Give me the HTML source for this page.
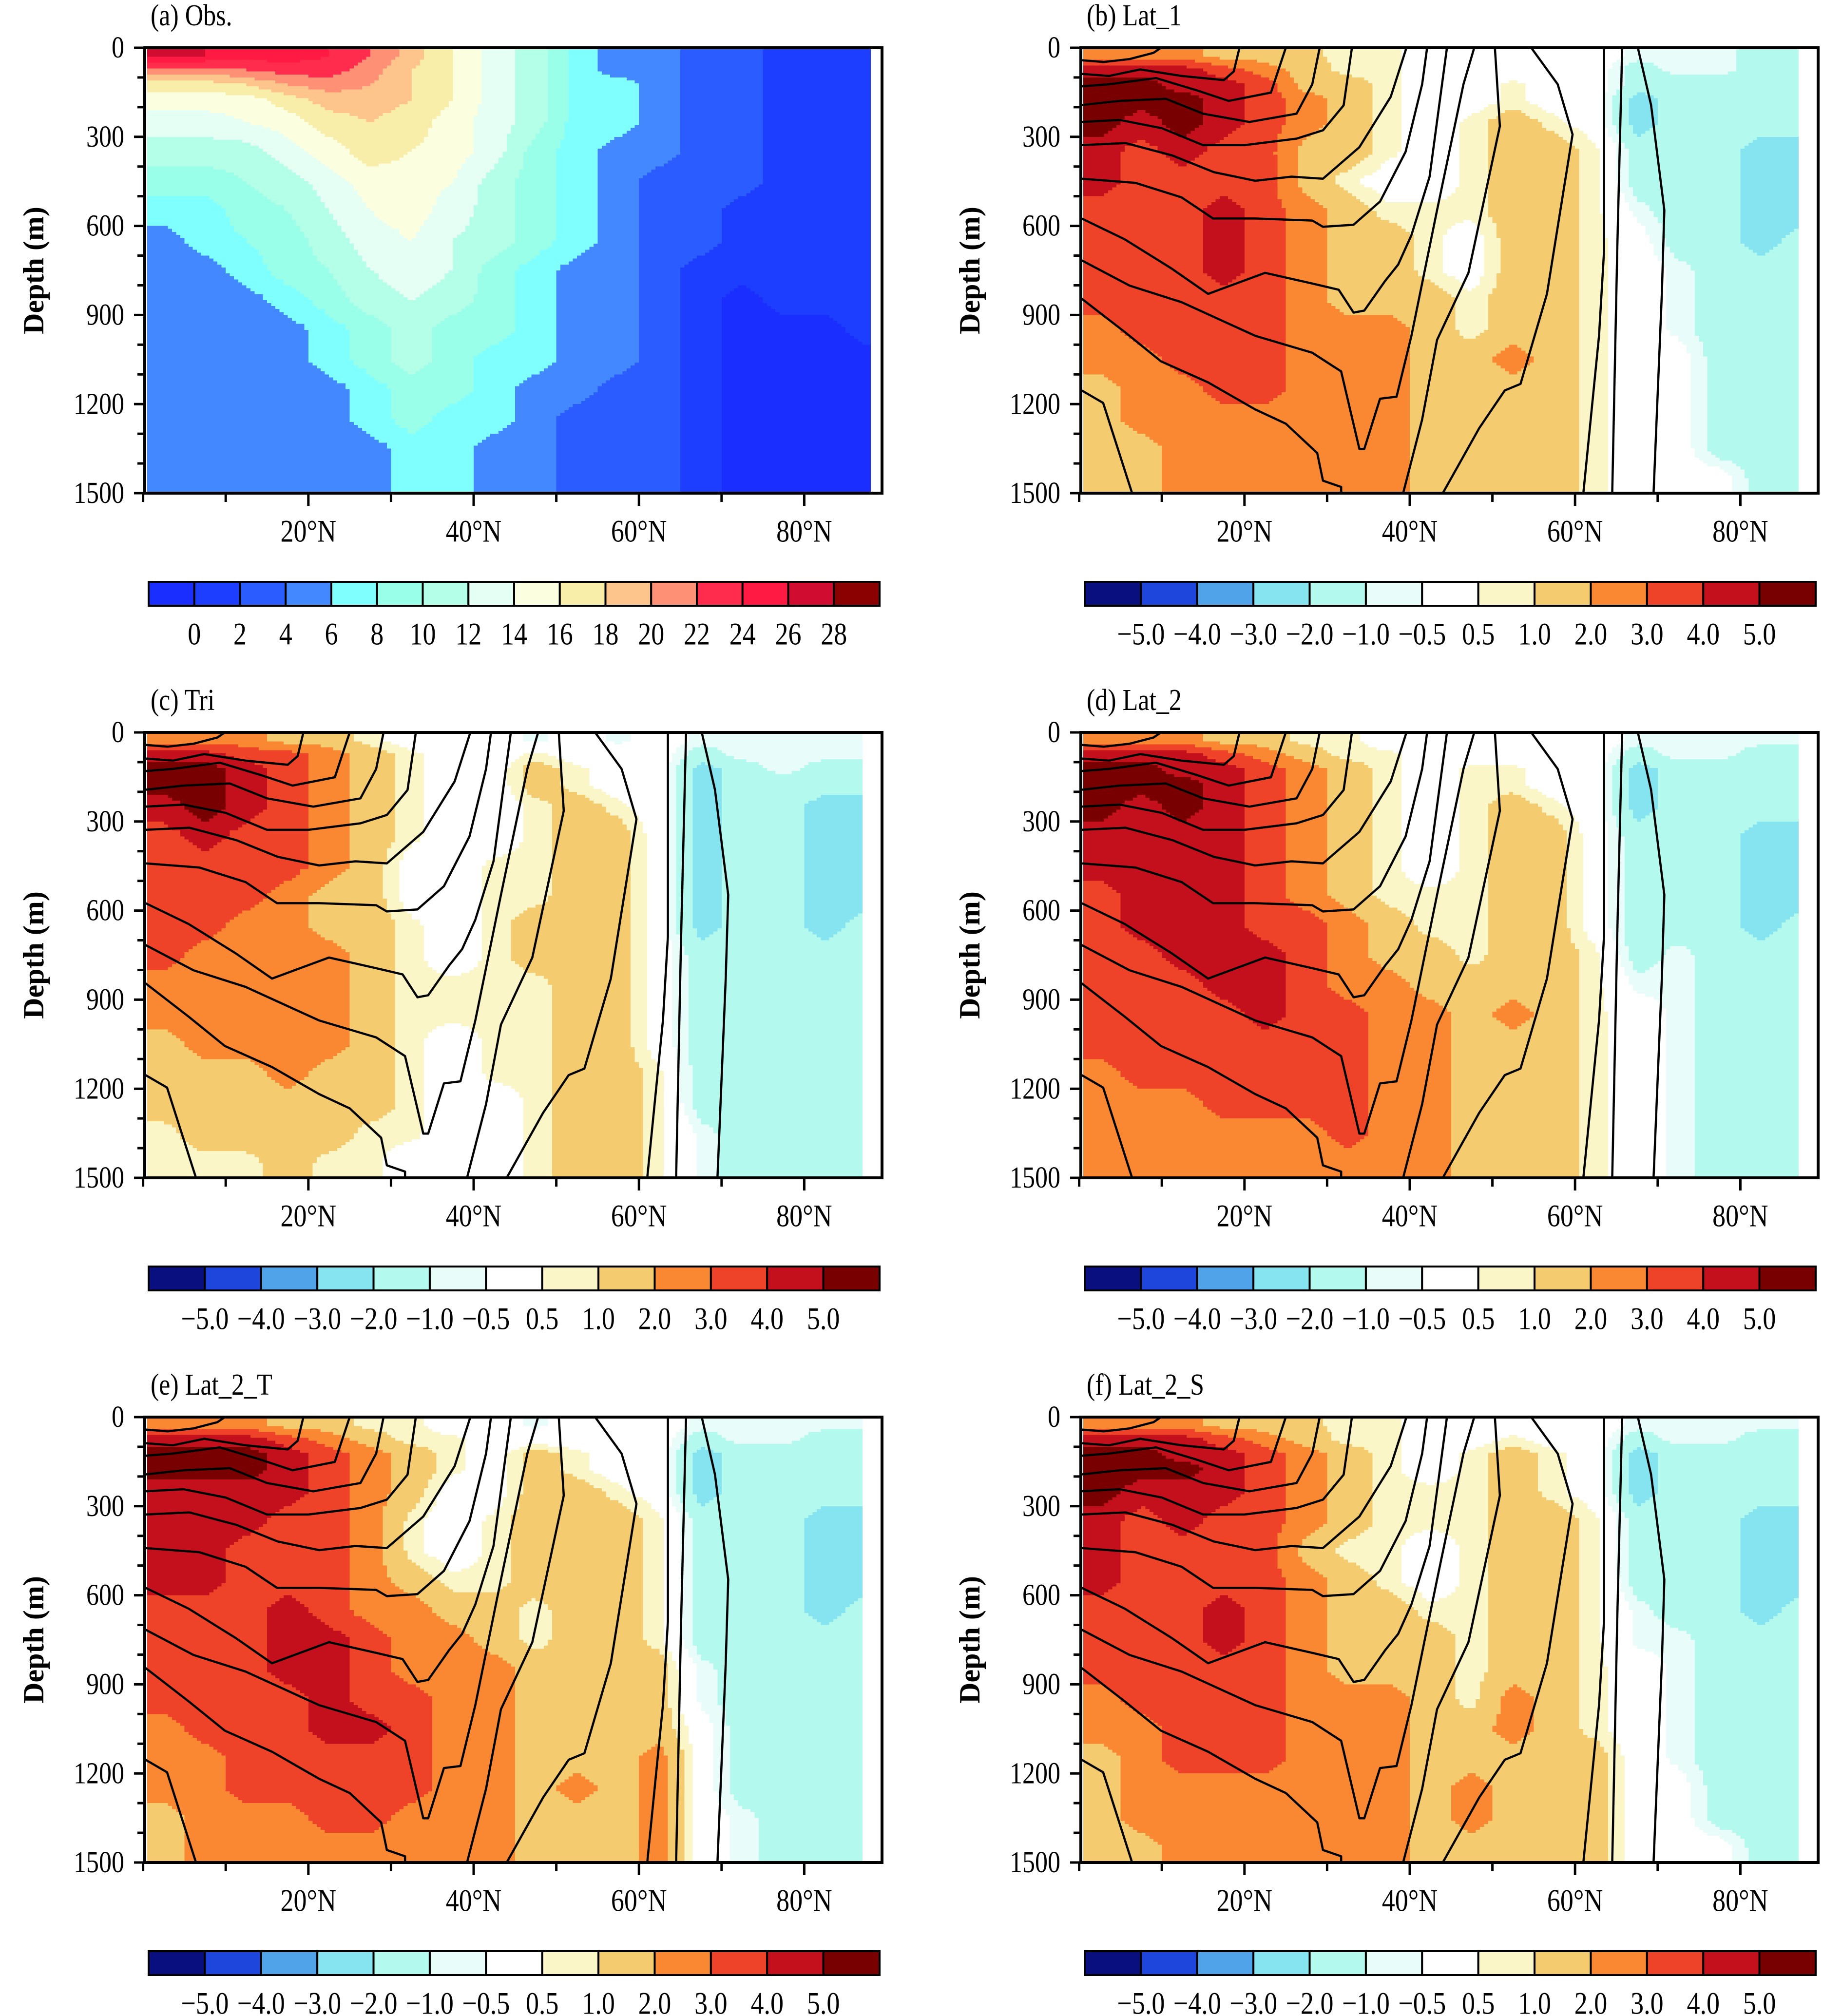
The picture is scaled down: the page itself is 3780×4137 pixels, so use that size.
<!DOCTYPE html>
<html><head><meta charset="utf-8">
<style>
html,body{margin:0;padding:0;background:#fff;}
svg{display:block;font-family:"Liberation Serif","Times New Roman",serif;}
</style></head>
<body>
<svg id="fig" xmlns="http://www.w3.org/2000/svg" width="3780" height="4137" viewBox="0 0 3780 4137">
<rect x="0" y="0" width="3780" height="4137" fill="#fff"/>
</svg>
<script>
// ---------- data ----------
const latEdges=[0,5,10,15,20,25,30,35,40,45,50,55,60,65,70,75,80,85,90];
const depthEdges=[0,50,100,150,200,300,400,500,600,700,800,900,1000,1100,1200,1300,1400,1500];
const xTicks=[20,40,60,80];
const xTickLabels=["20°N","40°N","60°N","80°N"];
const yTicks=[0,300,600,900,1200,1500];
const yTickLabels=["0","300","600","900","1200","1500"];
const obsLevels=[0,2,4,6,8,10,12,14,16,18,20,22,24,26,28];
const obsLevelLabels=["0","2","4","6","8","10","12","14","16","18","20","22","24","26","28"];
const anoLevels=[-5,-4,-3,-2,-1,-0.5,0.5,1,2,3,4,5];
const anoLevelLabels=["−5.0","−4.0","−3.0","−2.0","−1.0","−0.5","0.5","1.0","2.0","3.0","4.0","5.0"];
const obsColors=["#1a2eff","#1e3eff","#2a5cff","#4488ff","#80ffff","#99ffe8","#b3ffe8","#e5fff5","#fbffe0","#f8eeaa","#fdc48c","#fd9075","#ff2c4e","#ff1a44","#d00c30","#8b0000"];
const anoColors=["#0a0f80","#1e46dc","#50a3e8","#86e3f0","#b3f9ee","#e8fdfa","#ffffff","#fbf6c8","#f5cb70","#fa8732","#ee4229","#c40f1c","#780000"];

const obsGrid=[
[27,26,25,25,24,22,19,16,13,11,7,5,5,3,3,1,1,1],
[21,21,22,23,23,21,18,16,13,11,7,5,5,3,3,1,1,1],
[17,17,18,20,21,20,18,16,13,11,7,7,5,3,3,1,1,1],
[15,15,15,17,19,19,18,16,13,11,7,7,5,3,3,1,1,1],
[13,13,14,15,17,18,17,15,13,11,7,7,5,3,3,1,1,1],
[11,11,11,13,15,17,16,15,13,9,7,5,5,3,3,1,1,1],
[9,9,10,11,13,15,15,14,11,9,7,5,3,3,3,1,1,1],
[7,7,9,10,12,14,15,13,11,9,7,5,3,3,1,1,1,1],
[5,7,8,9,11,13,14,12,11,9,7,5,3,3,1,1,1,1],
[5,5,7,9,10,12,13,12,9,7,5,5,3,1,1,1,1,1],
[5,5,5,7,9,11,12,11,9,7,5,5,3,1,-1,1,1,1],
[5,5,5,5,7,9,11,9,9,7,5,5,3,1,-1,-1,-1,1],
[5,5,5,5,7,9,11,9,7,7,5,5,3,1,-1,-1,-1,-1],
[5,5,5,5,5,7,9,9,7,5,5,3,3,1,-1,-1,-1,-1],
[5,5,5,5,5,7,9,7,7,5,3,3,3,1,-1,-1,-1,-1],
[5,5,5,5,5,5,7,7,5,5,3,3,3,1,-1,-1,-1,-1],
[5,5,5,5,5,5,7,7,5,5,3,3,3,1,-1,-1,-1,-1]];

const lat1Grid=[
[2.5,2.5,2.5,1.5,1.5,1.2,0.7,0.7,0,0,0,0,0,-0.7,-0.7,-0.7,-1.5,-1.5],
[4.5,4.5,4.5,3.5,2.5,1.5,0.7,0.7,0,0,0,0,0,-1.5,-0.7,-0.7,-1.5,-1.5],
[5.5,5.5,4.5,4.5,3.5,1.5,1.5,0.7,0,0,0.7,0,0,-1.5,-1.5,-1.5,-1.5,-1.5],
[5.5,5.5,5.5,4.5,3.5,2.5,1.5,0.7,0,0,0.7,0,0,-2.5,-1.5,-1.5,-1.5,-1.5],
[5.5,4.5,5.5,4.5,3.5,2.5,1.5,0.7,0,0.7,1.5,0.7,0,-2.5,-1.5,-1.5,-1.5,-1.5],
[4.5,3.5,4.5,3.5,3.5,1.5,1.5,0.7,0,0.7,1.5,1.5,0.7,-1.5,-1.5,-1.5,-2.5,-2.5],
[4.5,3.5,3.5,3.5,3.5,1.5,0.7,0,0,0.7,1.5,1.5,0.7,-1.5,-1.5,-1.5,-2.5,-2.5],
[3.5,3.5,3.5,4.5,3.5,2.5,1.5,0.7,0.7,0.7,1.5,1.5,0.7,-0.7,-1.5,-1.5,-2.5,-2.5],
[3.5,3.5,3.5,4.5,3.5,2.5,1.5,1.5,0.7,0,1.5,1.5,0.7,0,-1.5,-1.5,-2.5,-1.5],
[3.5,3.5,3.5,4.5,3.5,2.5,1.5,1.5,0.7,0,1.5,1.5,0.7,0,-0.7,-1.5,-1.5,-1.5],
[3.5,3.5,3.5,3.5,3.5,2.5,1.5,1.5,1.5,0.7,1.5,1.5,0.7,0,-0.7,-1.5,-1.5,-1.5],
[2.5,3.5,3.5,3.5,3.5,2.5,2.5,2.5,1.5,0.7,1.5,1.5,0.7,0,-0.7,-1.5,-1.5,-1.5],
[2.5,2.5,3.5,3.5,3.5,2.5,2.5,2.5,1.5,1.5,2.5,1.5,0.7,0,0,-1.5,-1.5,-1.5],
[1.5,2.5,2.5,3.5,3.5,2.5,2.5,2.5,1.5,1.5,1.5,1.5,0.7,0,0,-1.5,-1.5,-1.5],
[1.5,2.5,2.5,2.5,2.5,2.5,2.5,2.5,1.5,1.5,1.5,1.5,0.7,0,0,-1.5,-1.5,-1.5],
[1.5,1.5,2.5,2.5,2.5,2.5,2.5,2.5,1.5,1.5,1.5,1.5,0.7,0,0,-1.5,-1.5,-1.5],
[1.5,1.5,2.5,2.5,2.5,2.5,2.5,2.5,1.5,1.5,1.5,1.5,0.7,0,0,0,-1.5,-1.5]];

const triGrid=[
[2.5,2.5,2.5,1.5,1.5,0.7,0,0,0,-0.7,0,-0.7,0,-0.7,-0.7,-0.7,-0.7,-0.7],
[4.5,4.5,3.5,3.5,2.5,1.5,0.7,0,0,0.7,0,0,0,-1.5,-0.7,-0.7,-0.7,-0.7],
[5.5,5.5,4.5,3.5,2.5,1.5,0.7,0,0,1.5,0.7,0,0,-2.5,-1.5,-0.7,-1.5,-1.5],
[5.5,5.5,4.5,3.5,2.5,1.5,0.7,0,0,1.5,0.7,0,0,-2.5,-1.5,-1.5,-1.5,-1.5],
[4.5,5.5,4.5,3.5,2.5,1.5,0.7,0,0,0.7,1.5,0.7,0,-2.5,-1.5,-1.5,-2.5,-2.5],
[3.5,4.5,3.5,3.5,2.5,1.5,0.7,0,0,0.7,1.5,1.5,0,-2.5,-1.5,-1.5,-2.5,-2.5],
[3.5,3.5,3.5,3.5,2.5,1.5,0,0,0.7,0.7,1.5,1.5,0,-2.5,-1.5,-1.5,-2.5,-2.5],
[3.5,3.5,3.5,2.5,1.5,1.5,0,0,0.7,0.7,1.5,1.5,0,-2.5,-1.5,-1.5,-2.5,-2.5],
[3.5,3.5,2.5,2.5,1.5,1.5,0.7,0,0.7,1.5,1.5,1.5,0,-2.5,-1.5,-1.5,-2.5,-1.5],
[3.5,2.5,2.5,2.5,2.5,1.5,0.7,0,0.7,1.5,1.5,1.5,0,-1.5,-1.5,-1.5,-1.5,-1.5],
[2.5,2.5,2.5,2.5,2.5,1.5,0.7,0.7,0.7,0.7,1.5,1.5,0,-1.5,-1.5,-1.5,-1.5,-1.5],
[2.5,2.5,2.5,2.5,2.5,1.5,0.7,0.7,0.7,0.7,1.5,1.5,0,-1.5,-1.5,-1.5,-1.5,-1.5],
[1.5,2.5,2.5,2.5,2.5,1.5,0.7,0,0.7,0.7,1.5,1.5,0,-1.5,-1.5,-1.5,-1.5,-1.5],
[1.5,1.5,1.5,2.5,1.5,1.5,0.7,0,0.7,0.7,1.5,1.5,0.7,-1.5,-1.5,-1.5,-1.5,-1.5],
[1.5,1.5,1.5,1.5,1.5,1.5,0.7,0,0,0.7,1.5,1.5,0.7,-1.5,-1.5,-1.5,-1.5,-1.5],
[0.7,1.5,1.5,1.5,1.5,0.7,0.7,0,0,0.7,1.5,1.5,0.7,-0.7,-1.5,-1.5,-1.5,-1.5],
[0.7,0.7,0.7,1.5,0.7,0.7,0,0,0,0.7,1.5,1.5,0.7,-0.7,-1.5,-1.5,-1.5,-1.5]];

const lat2Grid=[
[2.5,2.5,2.5,1.5,1.5,0.7,0.7,0,0,0,0,0,0,-0.7,-0.7,-0.7,-0.7,-0.7],
[4.5,4.5,4.5,3.5,2.5,1.5,0.7,0.7,0,0,0,0,0,-1.5,-0.7,-0.7,-1.5,-1.5],
[5.5,5.5,4.5,4.5,3.5,2.5,1.5,0.7,0,0.7,0.7,0,0,-2.5,-1.5,-1.5,-1.5,-1.5],
[5.5,5.5,5.5,4.5,3.5,2.5,1.5,0.7,0,0.7,0.7,0,0,-2.5,-1.5,-1.5,-1.5,-1.5],
[5.5,4.5,5.5,4.5,3.5,2.5,1.5,0.7,0,0.7,1.5,0.7,0,-2.5,-1.5,-1.5,-1.5,-1.5],
[4.5,4.5,4.5,4.5,3.5,2.5,1.5,0.7,0,0.7,1.5,1.5,0,-1.5,-1.5,-1.5,-2.5,-2.5],
[4.5,4.5,4.5,4.5,3.5,2.5,1.5,0.7,0,0.7,1.5,1.5,0,-1.5,-1.5,-1.5,-2.5,-2.5],
[3.5,4.5,4.5,4.5,3.5,2.5,1.5,0.7,0.7,0.7,1.5,1.5,0,-1.5,-1.5,-1.5,-2.5,-2.5],
[3.5,4.5,4.5,4.5,3.5,3.5,2.5,1.5,0.7,0.7,1.5,1.5,0,-1.5,-1.5,-1.5,-2.5,-1.5],
[3.5,3.5,4.5,4.5,4.5,3.5,2.5,1.5,1.5,0.7,1.5,1.5,0.7,-1.5,-0.7,-1.5,-1.5,-1.5],
[3.5,3.5,3.5,4.5,4.5,3.5,2.5,2.5,1.5,1.5,1.5,1.5,0.7,-0.7,-0.7,-1.5,-1.5,-1.5],
[3.5,3.5,3.5,3.5,4.5,3.5,3.5,2.5,2.5,1.5,2.5,1.5,0.7,0,-0.7,-1.5,-1.5,-1.5],
[3.5,3.5,3.5,3.5,3.5,3.5,3.5,2.5,2.5,1.5,1.5,1.5,0.7,0,-0.7,-1.5,-1.5,-1.5],
[2.5,3.5,3.5,3.5,3.5,3.5,3.5,2.5,2.5,1.5,1.5,1.5,0.7,0,-0.7,-1.5,-1.5,-1.5],
[2.5,2.5,2.5,3.5,3.5,3.5,3.5,2.5,2.5,1.5,1.5,1.5,0.7,0,-0.7,-1.5,-1.5,-1.5],
[2.5,2.5,2.5,2.5,2.5,2.5,3.5,2.5,2.5,1.5,1.5,1.5,0.7,0,-0.7,-1.5,-1.5,-1.5],
[2.5,2.5,2.5,2.5,2.5,2.5,2.5,2.5,2.5,1.5,1.5,1.5,0.7,0,-0.7,-1.5,-1.5,-1.5]];

const lat2TGrid=[
[2.5,2.5,2.5,1.5,1.5,0.7,0.7,0,0,-0.7,0,0,0,-0.7,-0.7,-0.7,-0.7,-0.7],
[4.5,4.5,4.5,3.5,2.5,1.5,0.7,0.7,0,0,0,0,0,-1.5,-0.7,-0.7,-1.5,-1.5],
[5.5,5.5,5.5,4.5,3.5,2.5,1.5,0.7,0,1.5,0.7,0,0,-2.5,-1.5,-1.5,-1.5,-1.5],
[5.5,5.5,5.5,4.5,3.5,2.5,1.5,0.7,0,1.5,0.7,0,0,-2.5,-1.5,-1.5,-1.5,-1.5],
[4.5,4.5,4.5,4.5,3.5,2.5,1.5,0,0,1.5,1.5,0.7,0,-2.5,-1.5,-1.5,-1.5,-1.5],
[4.5,4.5,4.5,3.5,3.5,2.5,0.7,0,0.7,1.5,1.5,1.5,0.7,-1.5,-1.5,-1.5,-2.5,-2.5],
[4.5,4.5,3.5,3.5,3.5,2.5,0.7,0,0.7,1.5,1.5,1.5,0.7,-1.5,-1.5,-1.5,-2.5,-2.5],
[4.5,4.5,3.5,3.5,3.5,2.5,1.5,0.7,0.7,1.5,1.5,1.5,0.7,-1.5,-1.5,-1.5,-2.5,-2.5],
[3.5,3.5,3.5,4.5,3.5,2.5,2.5,1.5,1.5,0.7,1.5,1.5,0.7,-1.5,-1.5,-1.5,-2.5,-1.5],
[3.5,3.5,3.5,4.5,4.5,3.5,2.5,2.5,1.5,0.7,1.5,1.5,0.7,-1.5,-1.5,-1.5,-1.5,-1.5],
[3.5,3.5,3.5,4.5,4.5,3.5,2.5,2.5,2.5,1.5,1.5,1.5,1.5,-0.7,-1.5,-1.5,-1.5,-1.5],
[3.5,3.5,3.5,3.5,4.5,3.5,3.5,2.5,2.5,1.5,1.5,1.5,1.5,-0.7,-1.5,-1.5,-1.5,-1.5],
[2.5,3.5,3.5,3.5,4.5,4.5,3.5,2.5,2.5,1.5,1.5,1.5,1.5,0,-1.5,-1.5,-1.5,-1.5],
[2.5,2.5,3.5,3.5,3.5,3.5,3.5,2.5,2.5,1.5,1.5,1.5,2.5,0,-1.5,-1.5,-1.5,-1.5],
[2.5,2.5,3.5,3.5,3.5,3.5,3.5,2.5,2.5,1.5,2.5,1.5,2.5,0,-1.5,-1.5,-1.5,-1.5],
[1.5,2.5,2.5,2.5,3.5,3.5,2.5,2.5,2.5,1.5,1.5,1.5,2.5,0,-0.7,-1.5,-1.5,-1.5],
[1.5,2.5,2.5,2.5,2.5,2.5,2.5,2.5,2.5,1.5,1.5,1.5,2.5,0,-0.7,-1.5,-1.5,-1.5]];

const lat2SGrid=[
[2.5,2.5,2.5,1.5,1.5,1.2,0.7,0.7,0,0,0,0,0,-0.7,-0.7,-0.7,-0.7,-0.7],
[4.5,4.5,4.5,3.5,2.5,1.5,0.7,0.7,0,0,0.7,0,0,-1.5,-0.7,-0.7,-1.5,-1.5],
[5.5,5.5,4.5,4.5,3.5,2.5,1.5,0.7,0,0.7,1.5,0.7,0,-2.5,-1.5,-1.5,-1.5,-1.5],
[5.5,5.5,5.5,4.5,3.5,2.5,1.5,0.7,0,0.7,1.5,0.7,0,-2.5,-1.5,-1.5,-1.5,-1.5],
[5.5,4.5,4.5,4.5,3.5,2.5,1.5,0.7,0.7,0.7,1.5,0.7,0,-2.5,-1.5,-1.5,-1.5,-1.5],
[4.5,3.5,4.5,3.5,3.5,2.5,1.5,0.7,0.7,0.7,1.5,1.5,0.7,-1.5,-1.5,-1.5,-2.5,-2.5],
[4.5,3.5,3.5,3.5,3.5,1.5,0.7,0.7,0,0.7,1.5,1.5,0.7,-1.5,-1.5,-1.5,-2.5,-2.5],
[4.5,3.5,3.5,3.5,3.5,2.5,1.5,0.7,0,0.7,1.5,1.5,0.7,-1.5,-1.5,-1.5,-2.5,-2.5],
[3.5,3.5,3.5,4.5,3.5,2.5,1.5,1.5,0.7,0.7,1.5,1.5,0.7,-0.7,-1.5,-1.5,-2.5,-1.5],
[3.5,3.5,3.5,4.5,3.5,2.5,1.5,1.5,1.5,0.7,1.5,1.5,0.7,-0.7,-0.7,-1.5,-1.5,-1.5],
[3.5,3.5,3.5,3.5,3.5,2.5,1.5,1.5,1.5,0.7,1.5,1.5,0.7,0,-0.7,-1.5,-1.5,-1.5],
[2.5,3.5,3.5,3.5,3.5,2.5,2.5,2.5,1.5,0.7,2.5,1.5,0.7,0,-0.7,-1.5,-1.5,-1.5],
[2.5,2.5,3.5,3.5,3.5,2.5,2.5,2.5,1.5,1.5,2.5,1.5,0.7,0,-0.7,-1.5,-1.5,-1.5],
[1.5,2.5,3.5,3.5,3.5,2.5,2.5,2.5,1.5,1.5,1.5,1.5,1.5,0,-0.7,-1.5,-1.5,-1.5],
[1.5,2.5,2.5,2.5,2.5,2.5,2.5,2.5,1.5,2.5,1.5,1.5,1.5,0,0,-1.5,-1.5,-1.5],
[1.5,2.5,2.5,2.5,2.5,2.5,2.5,2.5,1.5,2.5,1.5,1.5,1.5,0,0,-1.5,-1.5,-1.5],
[1.5,1.5,2.5,2.5,2.5,2.5,2.5,2.5,1.5,1.5,1.5,1.5,1.5,0,0,0,-1.5,-1.5]];

// model isotherm contour lines: [lat, depth] pairs
const iso1=[[0.3,42],[3,48],[6.1,38],[9,17],[9.9,0]];
const iso2=[[0.3,88],[3.6,95],[7.4,73],[12.4,95],[17.5,109],[18.7,80],[19.4,0]];
const iso3=[[0.3,130],[3.6,123],[9.3,102],[14.3,144],[18.1,179],[23.2,151],[25,0]];
const iso4=[[0.3,193],[4.9,179],[10.5,172],[15,222],[20.6,250],[26.3,222],[28.2,123],[29.1,0]];
const iso5=[[0.3,250],[4.9,243],[10,271],[15,328],[20,328],[26.3,306],[29.5,278],[32,194],[33,0]];
const iso6=[[0.3,328],[5.6,321],[11.3,363],[16.3,419],[21.3,448],[25.7,434],[29.5,441],[33.9,335],[37.7,165],[39.6,0]];
const iso7=[[0.3,441],[6.8,455],[12.4,504],[16.2,575],[21.3,575],[28.2,582],[29.5,603],[33.2,596],[36.4,518],[39.5,350],[41.5,123],[42.1,0]];
const iso8=[[0.3,575],[5.5,645],[11.2,744],[15.6,829],[22.5,758],[28.2,794],[31.4,815],[33.2,892],[34.5,885],[37,786],[38.6,730],[40.2,631],[42.4,434],[43.9,123],[44.5,0]];
const iso9=[[0.3,716],[6.1,801],[12.4,857],[21.3,970],[28.2,1027],[31.7,1090],[33.9,1351],[34.5,1351],[36.4,1182],[38.4,1175],[40.2,970],[43.3,547],[46.5,123],[47.8,0]];
const iso10=[[0.3,845],[5.5,957],[9.9,1056],[15.6,1127],[21.3,1218],[25,1266],[28.8,1365],[29.5,1458],[31.7,1479],[31.7,1500]];
const iso11=[[0.3,1154],[2.9,1196],[6.4,1500]];
const iso12=[[39.2,1500],[41.5,1252],[43.3,984],[47.1,758],[50.9,264],[50.3,0]];
const iso13=[[44,1500],[48.4,1281],[51.5,1154],[53.4,1132],[56.6,829],[59.7,292],[57.9,123],[54.7,0]];
const iso14=[[61,1500],[62.9,970],[63.5,687],[63.5,0]];
const iso15=[[64.5,1500],[65.1,687],[65.7,0]];
const iso16=[[69.5,1500],[70.5,828],[70.8,547],[69.2,193],[67.6,0]];
const isoLines=[iso1,iso2,iso3,iso4,iso5,iso6,iso7,iso8,iso9,iso10,iso11,iso12,iso13,iso14,iso15,iso16];

// ---------- layout ----------
const NS="http://www.w3.org/2000/svg";
const svg=document.getElementById('fig');
function mk(tag,attrs,parent){const e=document.createElementNS(NS,tag);for(const k in attrs)e.setAttribute(k,attrs[k]);(parent||svg).appendChild(e);return e;}
const PW=1513,PH=914;
const panels=[
 {id:'a',title:'(a) Obs.',x:297,y:98,grid:obsGrid,obs:true,maxLat:88},
 {id:'b',title:'(b) Lat_1',x:2218,y:98,grid:lat1Grid,obs:false,maxLat:87},
 {id:'c',title:'(c) Tri',x:297,y:1503,grid:triGrid,obs:false,maxLat:87},
 {id:'d',title:'(d) Lat_2',x:2218,y:1503,grid:lat2Grid,obs:false,maxLat:87},
 {id:'e',title:'(e) Lat_2_T',x:297,y:2908,grid:lat2TGrid,obs:false,maxLat:87},
 {id:'f',title:'(f) Lat_2_S',x:2218,y:2908,grid:lat2SGrid,obs:false,maxLat:87}];
function obsIdx(v){let i=0;for(const l of obsLevels)if(v>=l)i++;return i;}
function anoIdx(v){let i=0;for(const l of anoLevels)if(v>=l)i++;return i;}
const latC=latEdges.slice(0,-1).map((e,i)=>(e+latEdges[i+1])/2);
const depC=depthEdges.slice(0,-1).map((e,i)=>(e+depthEdges[i+1])/2);
function locate(arr,v){
  if(v<=arr[0])return [0,0,0];
  if(v>=arr[arr.length-1])return [arr.length-1,arr.length-1,0];
  let i=0;while(arr[i+1]<v)i++;
  return [i,i+1,(v-arr[i])/(arr[i+1]-arr[i])];
}
function sample(grid,lat,d){
  const [i0,i1,fx]=locate(latC,lat),[j0,j1,fy]=locate(depC,d);
  const a=grid[j0][i0]*(1-fx)+grid[j0][i1]*fx;
  const b=grid[j1][i0]*(1-fx)+grid[j1][i1]*fx;
  return a*(1-fy)+b*fy;
}

panels.forEach(p=>{
  const X=lat=>p.x+(lat-0.2)*16.96;
  const Y=d=>p.y+d/1500*PH;
  const g=mk('g',{});
  
  
  const cid='clip'+p.id;
  const cp=mk('clipPath',{id:cid},g);mk('rect',{x:p.x,y:p.y,width:PW,height:PH},cp);
  const field=mk('g',{'clip-path':'url(#'+cid+')'},g);
  
  
  const dl=0.5, dd=10;
  for(let d=0; d<1500; d+=dd){
    let runStart=null, runCol=null;
    const flush=(endLat)=>{
      if(runStart===null)return;
      const r=mk('rect',{x:X(runStart),y:Y(d),width:X(endLat)-X(runStart)+1,height:Y(d+dd)-Y(d)+1,fill:runCol,'shape-rendering':'crispEdges'},field);
      
      
    };
    for(let lat=0.5; lat<p.maxLat; lat+=dl){
      const v=sample(p.grid,lat+dl/2,d+dd/2);
      const col=p.obs?obsColors[obsIdx(v)]:anoColors[anoIdx(v)];
      if(col!==runCol){flush(lat);runStart=lat;runCol=col;}
    }
    flush(p.maxLat);
  }
  if(!p.obs){
    isoLines.forEach((ln,k)=>{
      const pl=mk('polyline',{points:ln.map(q=>X(q[0]).toFixed(1)+','+Y(q[1]).toFixed(1)).join(' '),fill:'none',stroke:'#000','stroke-width':4.5,'stroke-linejoin':'round'},field);
      
      
    });
  }
  const fr=mk('rect',{x:p.x,y:p.y,width:PW,height:PH,fill:'none',stroke:'#000','stroke-width':6},g);
  
  
  for(let d=0;d<=1500;d+=100){
    const major=d%300===0;
    const t=mk('line',{x1:p.x-(major?22:15),x2:p.x,y1:Y(d),y2:Y(d),stroke:'#000','stroke-width':5},g);
    
    
  }
  yTicks.forEach((d,k)=>{
    const t=mk('text',{x:p.x-42,y:Y(d),'font-size':52,'text-anchor':'end','dominant-baseline':'central',transform:'translate(0,'+Y(d)+') scale(1,1.2) translate(0,'+(-Y(d))+')'},g);
    t.textContent=yTickLabels[k];
    
    
  });
  for(let lat=0;lat<=80;lat+=10){
    const major=lat%20===0&&lat>0;
    const t=mk('line',{x1:X(lat),x2:X(lat),y1:p.y+PH,y2:p.y+PH+(major?26:18),stroke:'#000','stroke-width':5},g);
    
    
  }
  xTicks.forEach((lat,k)=>{
    const cy=p.y+PH+78;
    const t=mk('text',{x:X(lat),y:cy,'font-size':54,'text-anchor':'middle','dominant-baseline':'central',transform:'translate(0,'+cy+') scale(1,1.2) translate(0,'+(-cy)+')'},g);
    t.textContent=xTickLabels[k];
    
    
  });
  const ty=p.y-66;
  const tt=mk('text',{x:p.x+12,y:ty,'font-size':52,'dominant-baseline':'central',transform:'translate(0,'+ty+') scale(1,1.2) translate(0,'+(-ty)+')'},g);
  tt.textContent=p.title;
  
  
  const yc=p.y+PH/2, yx=p.x-228;
  const yl=mk('text',{x:yx,y:yc,'font-size':60,'font-weight':'bold','text-anchor':'middle','dominant-baseline':'central',transform:'rotate(-90 '+yx+' '+yc+')'},g);
  yl.textContent='Depth (m)';
  
  
  const cb=mk('g',{},g);
  
  
  const cols=p.obs?obsColors:anoColors, labs=p.obs?obsLevelLabels:anoLevelLabels;
  const cx0=p.x+8, cw=1500, cy0=p.y+1096, chh=49, bw=cw/cols.length;
  cols.forEach((c,k)=>{
    const r=mk('rect',{x:cx0+k*bw,y:cy0,width:bw,height:chh,fill:c,stroke:'#000','stroke-width':4},cb);
    
    
  });
  labs.forEach((s,k)=>{
    const lx=cx0+(k+1)*bw, ly=cy0+107;
    const t=mk('text',{x:lx,y:ly,'font-size':54,'text-anchor':'middle','dominant-baseline':'central',transform:'translate(0,'+ly+') scale(1,1.2) translate(0,'+(-ly)+')'},cb);
    t.textContent=s;
    
    
  });
});
</script>
</body></html>
